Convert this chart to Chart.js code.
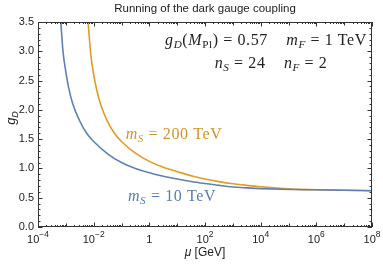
<!DOCTYPE html>
<html>
<head>
<meta charset="utf-8">
<script src="https://cdn.jsdelivr.net/npm/chart.js@4"></script>
<style>
  html, body { margin: 0; padding: 0; background: #fff; }
</style>
</head>
<body>
<canvas id="chart" width="383" height="264"></canvas>
<script>
( function() {

  // mu in GeV, coupling g_D
  var muSmall = [ 6.6e-4, 7.9e-4, 1e-3, 1.26e-3, 1.78e-3, 3.16e-3, 5.6e-3, 1e-2, 3.16e-2, 0.1, 0.316, 1, 3.16, 10, 31.6, 100, 316, 1e3, 3.16e3, 1e4, 5e4, 2e5, 1e6, 1e7, 1e8 ];
  var gSmall  = [ 3.5,    3.0,    2.65, 2.38,    2.10,    1.81,    1.60,   1.46, 1.25,    1.10, 1.00, 0.925, 0.866, 0.818, 0.777, 0.742, 0.710, 0.683, 0.668, 0.656, 0.645, 0.640, 0.635, 0.628, 0.620 ];

  var muLarge = [ 6.3e-3, 7.9e-3, 1e-2, 1.26e-2, 1.78e-2, 3.16e-2, 5.6e-2, 0.1, 0.316, 1, 3.16, 10, 31.6, 100, 316, 1e3, 3.16e3, 1e4, 3.16e4, 1e5, 2e5, 1e6, 1e7, 1e8 ];
  var gLarge  = [ 3.5,    2.94,   2.60, 2.36,    2.09,    1.80,    1.60,   1.46, 1.26, 1.12, 1.02, 0.945, 0.875, 0.82, 0.775, 0.738, 0.710, 0.688, 0.668, 0.652, 0.642, 0.636, 0.628, 0.620 ];

  var xTickValues = [ 1e-4, 1e-2, 1, 1e2, 1e4, 1e6, 1e8 ];
  var xTickLabels = [ [ '10', '\u22124' ], [ '10', '\u22122' ], [ '1', '' ], [ '10', '2' ], [ '10', '4' ], [ '10', '6' ], [ '10', '8' ] ];
  var yTickValues = [ 0, 0.5, 1, 1.5, 2, 2.5, 3, 3.5 ];

  var BLUE = '#5E81B5';
  var ORANGE = '#E19C24';
  var SANS = "'Liberation Sans', Arial, sans-serif";
  var SERIF = "'Liberation Serif', 'DejaVu Serif', serif";

  var toPoints = function( xs, ys ) {
    return xs.map( function( x, i ) {
      return { x: x, y: ys[ i ] };
    } );
  };

  // rich text: runs of { t, it, sub }
  var drawRich = function( ctx, runs, cx, cy, size, color ) {
    var fontFor = function( r ) {
      var s = r.sub ? size * 0.7 : size;
      return ( r.it ? 'italic ' : '' ) + s + 'px ' + SERIF;
    };
    ctx.save();
    ctx.letterSpacing = '0.6px';
    var total = 0;
    runs.forEach( function( r ) {
      ctx.font = fontFor( r );
      total += ctx.measureText( r.t ).width;
    } );
    var x = cx - total / 2;
    ctx.fillStyle = color;
    ctx.textBaseline = 'middle';
    ctx.textAlign = 'left';
    runs.forEach( function( r ) {
      ctx.font = fontFor( r );
      ctx.fillText( r.t, x, r.sub ? cy + size * 0.28 : cy );
      x += ctx.measureText( r.t ).width;
    } );
    ctx.restore();
  };

  var framePlugin = {
    id: 'frame',
    afterDraw: function( chart ) {
      var ctx = chart.ctx;
      var a = chart.chartArea;
      var xs = chart.scales.x;
      var ys = chart.scales.y;

      ctx.save();
      ctx.strokeStyle = '#333';
      ctx.lineWidth = 1;
      ctx.strokeRect( a.left + 0.5, a.top + 0.5, a.right - a.left - 1, a.bottom - a.top - 1 );

      ctx.beginPath();
      // log ticks on bottom and top
      for ( var e = -4; e <= 8; e++ ) {
        for ( var m = 1; m < 10; m++ ) {
          if ( e === 8 && m > 1 ) break;
          var px = Math.round( xs.getPixelForValue( m * Math.pow( 10, e ) ) ) + 0.5;
          var len = m > 1 ? 2 : ( e % 2 === 0 ? 4.5 : 3.5 );
          ctx.moveTo( px, a.bottom ); ctx.lineTo( px, a.bottom - len );
          ctx.moveTo( px, a.top ); ctx.lineTo( px, a.top + len );
        }
      }
      // linear ticks on left and right
      for ( var i = 0; i <= 35; i++ ) {
        var py = Math.round( ys.getPixelForValue( i / 10 ) ) + 0.5;
        var l = i % 5 === 0 ? 4.5 : 2.5;
        ctx.moveTo( a.left, py ); ctx.lineTo( a.left + l, py );
        ctx.moveTo( a.right, py ); ctx.lineTo( a.right - l, py );
      }
      ctx.stroke();

      // x tick labels with superscripts
      ctx.fillStyle = '#222';
      ctx.textBaseline = 'alphabetic';
      ctx.textAlign = 'left';
      xTickValues.forEach( function( v, k ) {
        var base = xTickLabels[ k ][ 0 ];
        var exp = xTickLabels[ k ][ 1 ];
        ctx.font = '11px ' + SANS;
        var wb = ctx.measureText( base ).width;
        ctx.font = '8.5px ' + SANS;
        var we = ctx.measureText( exp ).width;
        var x0 = xs.getPixelForValue( v ) - ( wb + we ) / 2;
        ctx.font = '11px ' + SANS;
        ctx.fillText( base, x0, a.bottom + 16 );
        ctx.font = '8.5px ' + SANS;
        ctx.fillText( exp, x0 + wb, a.bottom + 10 );
      } );

      // axis titles
      ctx.font = 'italic 12px ' + SANS;
      ctx.textBaseline = 'middle';
      var wm = ctx.measureText( '\u03bc' ).width;
      ctx.font = '12px ' + SANS;
      var wr = ctx.measureText( ' [GeV]' ).width;
      var xc = ( a.left + a.right ) / 2 - ( wm + wr ) / 2;
      ctx.font = 'italic 12px ' + SANS;
      ctx.fillText( '\u03bc', xc, 253 );
      ctx.font = '12px ' + SANS;
      ctx.fillText( ' [GeV]', xc + wm, 253 );

      ctx.save();
      ctx.translate( 12, 118 );
      ctx.rotate( -Math.PI / 2 );
      ctx.font = 'italic 13px ' + SANS;
      var wg = ctx.measureText( 'g' ).width;
      ctx.font = 'italic 9px ' + SANS;
      var wd = ctx.measureText( 'D' ).width;
      ctx.font = 'italic 13px ' + SANS;
      ctx.fillText( 'g', -( wg + wd ) / 2, -1 );
      ctx.font = 'italic 9px ' + SANS;
      ctx.fillText( 'D', -( wg + wd ) / 2 + wg, 3 );
      ctx.restore();

      // title
      ctx.font = '11.5px ' + SANS;
      ctx.textAlign = 'center';
      ctx.fillStyle = '#222';
      ctx.fillText( 'Running of the dark gauge coupling', ( a.left + a.right ) / 2, 9 );

      // annotations
      drawRich( ctx, [
        { t: 'g', it: true }, { t: 'D', it: true, sub: true }, { t: '(' },
        { t: 'M', it: true }, { t: 'Pl', sub: true }, { t: ') = 0.57    ' },
        { t: 'm', it: true }, { t: 'F', it: true, sub: true }, { t: ' = 1 TeV' }
      ], 266, 41, 16, '#222' );
      drawRich( ctx, [
        { t: 'n', it: true }, { t: 'S', it: true, sub: true }, { t: ' = 24    ' },
        { t: 'n', it: true }, { t: 'F', it: true, sub: true }, { t: ' = 2' }
      ], 271, 64, 16, '#222' );
      drawRich( ctx, [
        { t: 'm', it: true }, { t: 'S', it: true, sub: true }, { t: ' = 200 TeV' }
      ], 174, 135, 16, '#D29428' );
      drawRich( ctx, [
        { t: 'm', it: true }, { t: 'S', it: true, sub: true }, { t: ' = 10 TeV' }
      ], 172, 197, 16, '#5A7CB0' );

      ctx.restore();
    }
  };

  var config = {
    type: 'line',
    data: {
      datasets: [
        {
          data: toPoints( muSmall, gSmall ),
          label: 'm_S = 10 TeV',
          borderColor: BLUE,
          borderWidth: 1.6,
          pointRadius: 0,
          cubicInterpolationMode: 'monotone',
          fill: false
        },
        {
          data: toPoints( muLarge, gLarge ),
          label: 'm_S = 200 TeV',
          borderColor: ORANGE,
          borderWidth: 1.6,
          pointRadius: 0,
          cubicInterpolationMode: 'monotone',
          fill: false
        }
      ]
    },
    options: {
      responsive: false,
      animation: false,
      devicePixelRatio: 1,
      layout: { padding: { top: 22, right: 11, left: 0, bottom: 0 } },
      plugins: {
        legend: { display: false },
        title: { display: false },
        tooltip: { enabled: false }
      },
      scales: {
        x: {
          type: 'logarithmic',
          min: 1e-4,
          max: 1e8,
          grid: { display: false, drawTicks: false },
          border: { display: false },
          ticks: { display: false },
          afterBuildTicks: function( scale ) {
            scale.ticks = xTickValues.map( function( v ) { return { value: v }; } );
          },
          afterFit: function( scale ) { scale.height = 37; }
        },
        y: {
          min: 0,
          max: 3.5,
          grid: { display: false, drawTicks: false },
          border: { display: false },
          afterBuildTicks: function( scale ) {
            scale.ticks = yTickValues.map( function( v ) { return { value: v }; } );
          },
          ticks: {
            padding: 4,
            color: '#222',
            font: { family: SANS, size: 11 },
            callback: function( v ) { return Number( v ).toFixed( 1 ); }
          },
          afterFit: function( scale ) { scale.width = 38; }
        }
      }
    },
    plugins: [ framePlugin ]
  };

  new Chart( document.getElementById( 'chart' ), config );

} )();
</script>
</body>
</html>
